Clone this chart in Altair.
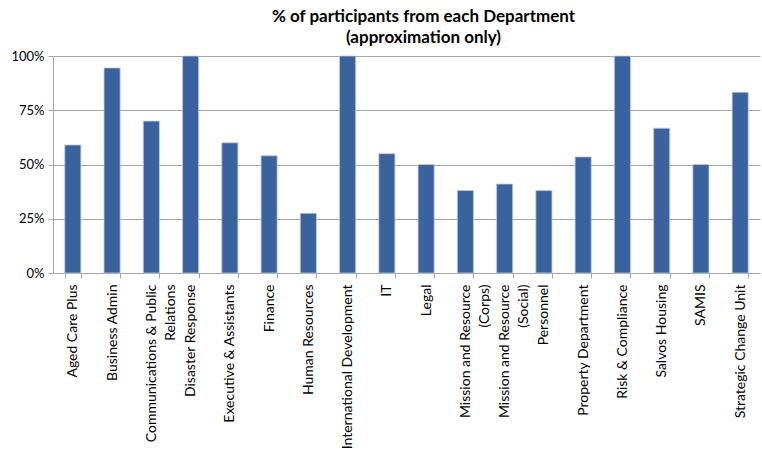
import altair as alt
import pandas as pd

departments = [
    "Aged Care Plus", "Business Admin", "Communications & Public\nRelations",
    "Disaster Response", "Executive & Assistants", "Finance", "Human Resources",
    "International Development", "IT", "Legal", "Mission and Resource\n(Corps)",
    "Mission and Resource\n(Social)", "Personnel", "Property Department",
    "Risk & Compliance", "Salvos Housing", "SAMIS", "Strategic Change Unit",
]
percent = [0.59, 0.945, 0.70, 1.0, 0.60, 0.54, 0.275, 1.0, 0.55, 0.50,
           0.38, 0.41, 0.38, 0.535, 1.0, 0.667, 0.50, 0.833]
y_ticks = [0, 0.25, 0.5, 0.75, 1.0]

df = pd.DataFrame({"Department": departments, "Percent": percent})

FONT = "Lato"

chart = alt.Chart(df).mark_bar(
    color="#3A639E", stroke="#B9C9E0", strokeWidth=0.8
).encode(
    x=alt.X("Department:N", sort=None, title=None,
            scale=alt.Scale(paddingInner=0.59, paddingOuter=0.3),
            axis=alt.Axis(labelAngle=-90, labelAlign="right", labelBaseline="middle",
                          labelExpr="split(datum.label, '\\n')",
                          labelLineHeight=19, labelFontSize=14, labelColor="#000000",
                          labelFont=FONT, labelPadding=6, labelLimit=250,
                          tickBand="extent", tickSize=5, tickColor="#A6A6A6",
                          domainColor="#A6A6A6", labelOverlap=False)),
    y=alt.Y("Percent:Q", title=None,
            scale=alt.Scale(domain=[0, 1], nice=False),
            axis=alt.Axis(values=y_ticks, format=".0%", labelFontSize=13,
                          labelFont=FONT, labelColor="#000000", labelPadding=4,
                          tickSize=5, tickColor="#A6A6A6", domainColor="#A6A6A6",
                          gridColor="#A6A6A6", gridWidth=1)),
).properties(
    width=707, height=217,
    title=alt.TitleParams(
        ["% of participants from each Department", "(approximation only)"],
        font=FONT, fontSize=17, fontWeight="bold", color="#000000",
        anchor="middle", dx=17, offset=3, lineHeight=21,
    ),
    autosize=alt.AutoSizeParams(type="none"),
    padding={"left": 53, "top": 56, "right": 2, "bottom": 178},
).configure_view(stroke=None)

chart.save("out.html", embed_options={"renderer": "svg", "actions": False})
